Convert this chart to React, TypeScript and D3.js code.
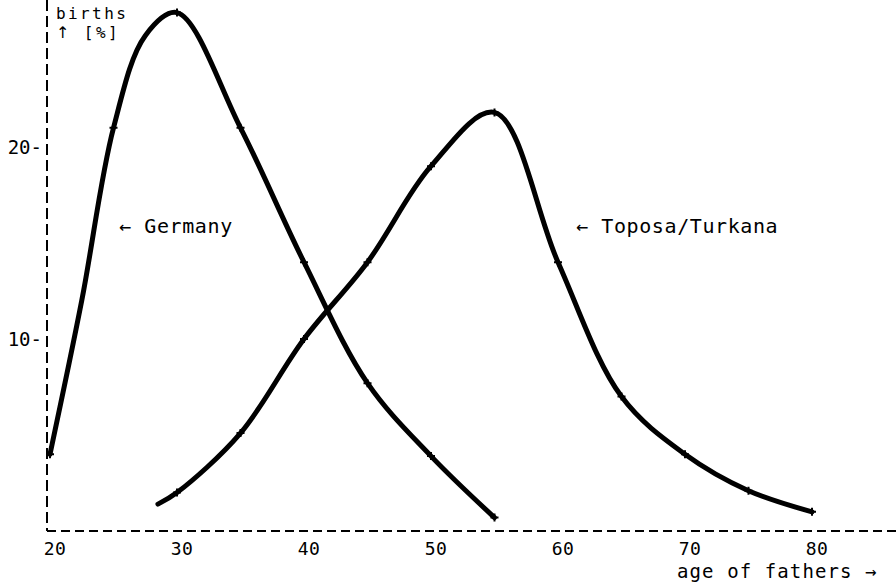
import React, { useEffect, useRef } from 'react';
import * as d3 from 'd3';

// values, percent of births by age of father
const germanyAges = [20, 22.5, 25, 27.5, 30, 35, 40, 45, 50, 55];
const germanyBirths = [4, 12, 21, 25.8, 27, 21, 14, 7.7, 3.9, 0.7];

const toposaAges = [28.5, 30, 35, 40, 45, 50, 55, 60, 65, 70, 75, 80];
const toposaBirths = [1.4, 2, 5.1, 10, 14, 19, 21.8, 14, 7, 4, 2.1, 1];

const xTicks = [20, 30, 40, 50, 60, 70, 80];
const yTicks = [10, 20];

const W = 896;
const H = 582;
const FONT = '"DejaVu Sans Mono", monospace';

const App = () => {
  const svgRef = useRef<SVGSVGElement>(null);

  useEffect(() => {
    const svg = d3.select(svgRef.current);
    svg.selectAll('*').remove();

    const x = d3.scaleLinear().domain([20, 80]).range([50, 812]);
    const y = d3.scaleLinear().domain([0, 20]).range([531, 147]);
    const axisX = 47;
    const axisY = y(0);

    // dashed axes
    svg.append('line')
      .attr('x1', axisX).attr('x2', axisX)
      .attr('y1', 0).attr('y2', axisY)
      .attr('stroke', '#000').attr('stroke-width', 2)
      .attr('stroke-dasharray', '11,5');

    svg.append('line')
      .attr('x1', axisX).attr('x2', W)
      .attr('y1', axisY).attr('y2', axisY)
      .attr('stroke', '#000').attr('stroke-width', 2)
      .attr('stroke-dasharray', '9,5');

    const txt = (s: string, tx: number, ty: number, size = 20, anchor = 'start', ls = 0.5) =>
      svg.append('text')
        .attr('x', tx).attr('y', ty)
        .attr('font-family', FONT)
        .attr('font-size', size)
        .attr('letter-spacing', ls)
        .attr('text-anchor', anchor)
        .attr('fill', '#000')
        .text(s);

    xTicks.forEach(t => txt(String(t), x(t) + 5, 555, 18, 'middle', 0.5));
    yTicks.forEach(t => txt(`${t}-`, 42, y(t) + 7, 19, 'end', 0));

    txt('births', 56, 19, 16, 'start', 2.4);
    const unit = txt('', 56, 38, 16, 'start', 2.4);
    unit.append('tspan').attr('font-family', '"DejaVu Sans"').text('\u2191');
    unit.append('tspan').text('  [%]');

    txt('age of fathers  \u2192', 677, 578, 19, 'start', 1.1);
    txt('\u2190 Germany', 119, 233, 20, 'start', 0.6);
    txt('\u2190 Toposa/Turkana', 576, 233, 20, 'start', 0.6);

    const line = d3.line<[number, number]>()
      .x(d => x(d[0]))
      .y(d => y(d[1]))
      .curve(d3.curveCatmullRom.alpha(0.5));

    const series = [
      d3.zip(germanyAges, germanyBirths) as [number, number][],
      d3.zip(toposaAges, toposaBirths) as [number, number][],
    ];

    series.forEach(pts => {
      svg.append('path')
        .attr('d', line(pts))
        .attr('fill', 'none')
        .attr('stroke', '#000')
        .attr('stroke-width', 5)
        .attr('stroke-linecap', 'round')
        .attr('stroke-linejoin', 'round');

      // small plotter marks only at the 5-year ages
      svg.append('g')
        .selectAll('path')
        .data(pts.filter(d => d[0] % 5 === 0))
        .enter()
        .append('path')
        .attr('d', d => {
          const px = x(d[0]);
          const py = y(d[1]);
          return `M${px - 4},${py}H${px + 4}M${px},${py - 4}V${py + 4}`;
        })
        .attr('stroke', '#000')
        .attr('stroke-width', 2);
    });
  }, []);

  return (
    <svg
      ref={svgRef}
      width={W}
      height={H}
      style={{ position: 'absolute', left: 0, top: 0, background: '#fff' }}
    />
  );
};

export default App;
